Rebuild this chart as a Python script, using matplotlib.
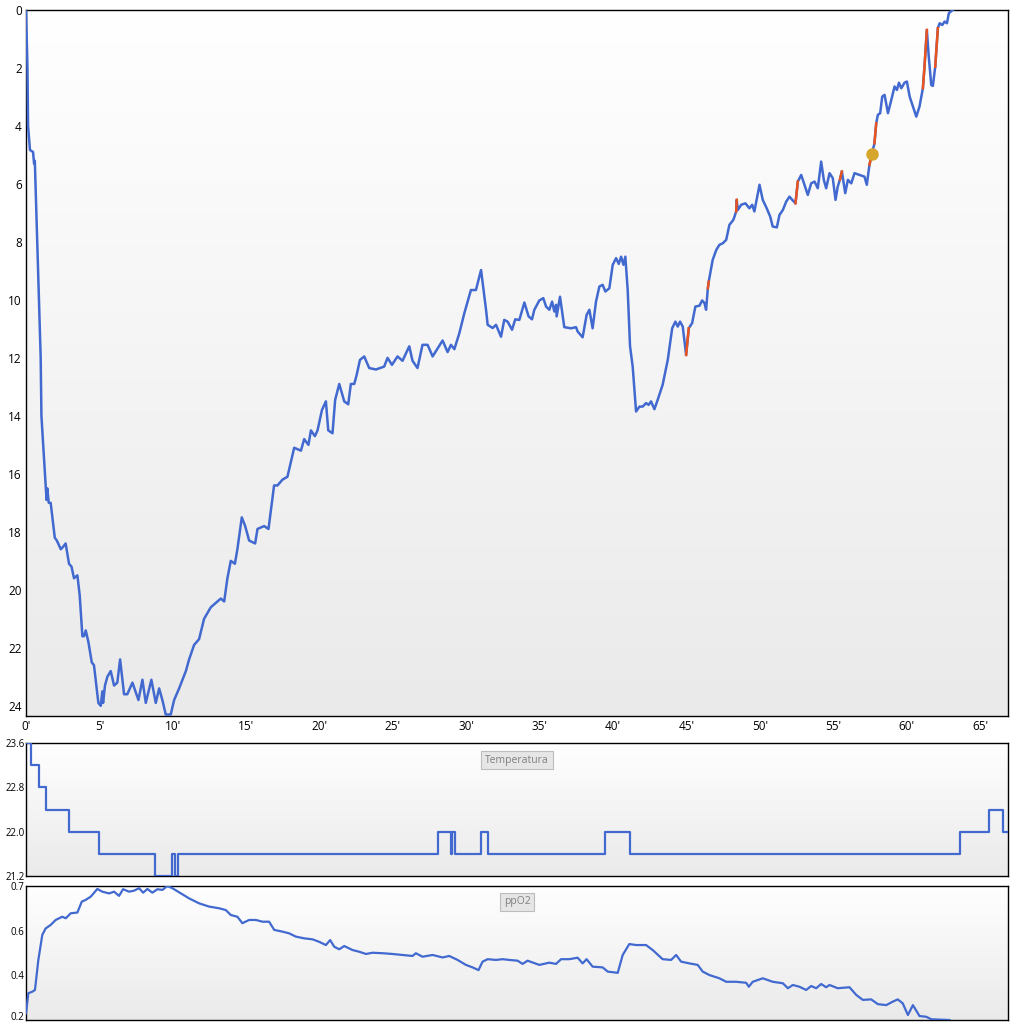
import numpy as np
import matplotlib
matplotlib.use("Agg")
import matplotlib.pyplot as plt
from matplotlib.colors import LinearSegmentedColormap
from matplotlib.ticker import FormatStrFormatter

plt.rcParams['font.family'] = ['Open Sans', 'DejaVu Sans']

# dive profile: time in minutes, depth in metres
depth_time = [0.0, 0.1, 0.14, 0.27, 0.48, 0.55, 0.6, 1.0, 1.05, 1.34, 1.4, 1.45, 1.55, 1.68,
              1.96, 2.1, 2.37, 2.55, 2.7, 2.93, 3.1, 3.27, 3.5, 3.66, 3.84, 3.95, 4.07, 4.25,
              4.48, 4.63, 4.93, 5.09, 5.2, 5.25, 5.38, 5.54, 5.77, 6.0, 6.22, 6.41, 6.68, 6.9,
              7.25, 7.66, 7.93, 8.16, 8.54, 8.84, 9.07, 9.29, 9.52, 9.86, 10.09, 10.43, 10.89,
              11.11, 11.45, 11.79, 12.13, 12.59, 13.04, 13.27, 13.5, 13.72, 13.95, 14.23, 14.4,
              14.7, 14.93, 15.2, 15.61, 15.77, 16.22, 16.52, 16.9, 17.13, 17.47, 17.81, 18.04,
              18.27, 18.73, 18.95, 19.24, 19.41, 19.68, 19.86, 20.16, 20.43, 20.59, 20.88, 21.06,
              21.34, 21.68, 21.95, 22.13, 22.36, 22.52, 22.75, 23.04, 23.38, 23.84, 24.4, 24.63,
              24.93, 25.31, 25.65, 26.11, 26.33, 26.67, 27.01, 27.36, 27.7, 28.38, 28.72, 28.95,
              29.18, 29.52, 29.86, 30.31, 30.65, 31.0, 31.34, 31.45, 31.79, 32.02, 32.36, 32.58,
              32.81, 33.11, 33.33, 33.61, 33.95, 34.24, 34.47, 34.63, 34.97, 35.24, 35.43, 35.65,
              35.84, 35.99, 36.11, 36.15, 36.38, 36.67, 37.13, 37.47, 37.58, 37.92, 38.19, 38.38,
              38.6, 38.83, 39.06, 39.28, 39.47, 39.74, 39.97, 40.2, 40.38, 40.54, 40.7, 40.83,
              40.99, 41.15, 41.33, 41.56, 41.79, 42.01, 42.24, 42.42, 42.58, 42.81, 43.03, 43.37,
              43.72, 44.02, 44.24, 44.4, 44.56, 44.74, 44.97, 45.15, 45.38, 45.6, 45.88, 46.06,
              46.22, 46.33, 46.45, 46.51, 46.78, 47.02, 47.24, 47.46, 47.7, 47.92, 48.19, 48.38,
              48.42, 48.49, 48.72, 49.01, 49.28, 49.47, 49.62, 49.97, 50.19, 50.46, 50.7, 50.87,
              51.15, 51.33, 51.56, 51.79, 52.01, 52.2, 52.42, 52.58, 52.81, 53.03, 53.26, 53.49,
              53.72, 53.94, 54.17, 54.35, 54.51, 54.74, 54.96, 55.15, 55.3, 55.45, 55.58, 55.81,
              55.99, 56.22, 56.44, 56.78, 57.12, 57.28, 57.46, 57.62, 57.8, 57.92, 58.03, 58.19,
              58.33, 58.49, 58.72, 58.95, 59.17, 59.33, 59.47, 59.63, 59.85, 60.01, 60.2, 60.42,
              60.65, 60.87, 61.1, 61.21, 61.37, 61.5, 61.67, 61.78, 61.94, 62.12, 62.24, 62.42,
              62.58, 62.74, 62.87, 63.14]
depth_m = [0.0, 2.0, 4.0, 4.83, 4.9, 5.3, 5.2, 12.0, 14.0, 16.45, 16.9, 16.5, 17.0, 17.0,
           18.2, 18.3, 18.6, 18.5, 18.4, 19.1, 19.2, 19.6, 19.5, 20.2, 21.6, 21.6, 21.4, 21.8,
           22.5, 22.6, 23.9, 24.0, 23.5, 23.9, 23.3, 23.0, 22.8, 23.3, 23.2, 22.4, 23.6, 23.6,
           23.2, 23.8, 23.1, 23.9, 23.1, 23.9, 23.4, 23.8, 24.3, 24.3, 23.8, 23.4, 22.8,
           22.4, 21.9, 21.7, 21.0, 20.6, 20.4, 20.3, 20.4, 19.6, 19.0, 19.1, 18.6,
           17.5, 17.8, 18.3, 18.4, 17.9, 17.8, 17.9, 16.4, 16.4, 16.2, 16.1, 15.6,
           15.1, 15.2, 14.8, 15.0, 14.5, 14.7, 14.5, 13.8, 13.5, 14.5, 14.6, 13.45,
           12.9, 13.5, 13.6, 12.9, 12.9, 12.6, 12.07, 11.95, 12.35, 12.4, 12.3, 12.0,
           12.24, 11.95, 12.1, 11.6, 12.1, 12.35, 11.55, 11.55, 11.95, 11.4, 11.8, 11.55,
           11.7, 11.15, 10.46, 9.66, 9.66, 8.97, 10.34, 10.86, 10.97, 10.86, 11.27, 10.69,
           10.75, 11.03, 10.67, 10.69, 10.09, 10.57, 10.67, 10.34, 10.02, 9.94, 10.23, 10.34,
           10.06, 10.4, 10.17, 10.57, 9.89, 10.94, 10.98, 10.94, 11.09, 11.29, 10.52, 10.34,
           10.98, 10.06, 9.54, 9.48, 9.71, 9.6, 8.79, 8.56, 8.76, 8.51, 8.79, 8.51,
           9.66, 11.6, 12.3, 13.85, 13.68, 13.68, 13.56, 13.62, 13.5, 13.77, 13.45, 12.93,
           12.07, 10.98, 10.75, 10.92, 10.75, 10.92, 11.9, 10.98, 10.8, 10.23, 10.2, 10.02,
           10.11, 10.34, 9.6, 9.37, 8.62, 8.28, 8.1, 8.05, 7.93, 7.41, 7.24, 6.95,
           6.55, 6.9, 6.72, 6.67, 6.84, 6.72, 6.95, 6.03, 6.55, 6.84, 7.13, 7.47,
           7.5, 7.07, 6.9, 6.61, 6.44, 6.55, 6.67, 5.92, 5.69, 6.03, 6.38, 5.98,
           5.92, 6.15, 5.23, 5.86, 6.15, 5.63, 5.8, 6.55, 6.09, 5.85, 5.57, 6.32,
           5.86, 5.98, 5.63, 5.69, 5.75, 6.03, 5.34, 4.98, 4.6, 3.91, 3.62, 3.56,
           2.99, 2.93, 3.56, 3.1, 2.64, 2.76, 2.51, 2.7, 2.51, 2.47, 2.99, 3.33,
           3.68, 3.33, 2.7, 1.96, 0.69, 1.61, 2.59, 2.62, 1.96, 0.63, 0.46, 0.52,
           0.4, 0.46, 0.11, 0.0]

# ascent-rate warning stretches (start, end minute)
warn_spans = [(44.97, 45.15), (46.45, 46.51), (48.38, 48.42), (52.42, 52.58),
              (55.45, 55.58), (57.46, 57.62), (57.8, 57.92), (61.1, 61.37), (61.94, 62.12)]

# marker on profile
mark_time = [57.62]
mark_depth = [4.98]

# temperature steps (change points)
temp_time = [0, 0.36, 0.89, 1.34, 2.93, 4.98, 8.79, 9.93, 10.16, 10.38, 28.04, 28.95, 29.05,
             29.2, 31.0, 31.45, 39.47, 41.15, 63.6, 65.6, 66.55, 66.9]
temp_c = [23.6, 23.2, 22.8, 22.4, 22.0, 21.6, 21.2, 21.6, 21.2, 21.6, 22.0, 21.6, 22.0,
          21.6, 22.0, 21.6, 22.0, 21.6, 22.0, 22.4, 22.0, 22.0]

# ppO2
ppo2_time = [0.0, 0.16, 0.43, 0.61, 0.84, 1.11, 1.34, 1.68, 2.02, 2.47, 2.71, 3.05, 3.5, 3.8,
             4.07, 4.41, 4.86, 5.2, 5.66, 6.0, 6.34, 6.61, 7.02, 7.36, 7.7, 7.98, 8.27, 8.61,
             8.95, 9.29, 9.63, 9.97, 10.55, 11.11, 11.79, 12.47, 13.16, 13.61, 13.95, 14.4,
             14.74, 15.2, 15.66, 16.11, 16.56, 16.91, 17.47, 17.93, 18.38, 18.95, 19.52, 19.97,
             20.43, 20.72, 21.0, 21.34, 21.68, 22.24, 22.7, 23.16, 23.61, 24.29, 24.97, 25.65,
             26.33, 26.56, 27.01, 27.7, 28.38, 28.83, 29.4, 29.97, 30.42, 30.83, 31.1, 31.45,
             32.02, 32.47, 32.92, 33.49, 33.83, 34.17, 34.97, 35.65, 36.11, 36.45, 37.01, 37.58,
             37.92, 38.19, 38.6, 39.28, 39.63, 40.31, 40.65, 41.1, 41.56, 42.24, 42.69, 43.37,
             43.95, 44.29, 44.63, 45.2, 45.76, 46.1, 46.56, 47.24, 47.7, 48.38, 49.06, 49.24,
             49.51, 50.19, 50.87, 51.56, 51.9, 52.24, 52.69, 53.15, 53.49, 53.83, 54.17, 54.51,
             54.74, 55.3, 56.1, 56.56, 57.01, 57.58, 58.03, 58.6, 59.05, 59.39, 59.73, 60.08,
             60.42, 60.87, 61.33, 61.67, 62.92]
ppo2_bar = [0.227, 0.308, 0.314, 0.321, 0.442, 0.543, 0.569, 0.583, 0.603, 0.616, 0.61, 0.63,
            0.633, 0.677, 0.684, 0.697, 0.728, 0.717, 0.71, 0.717, 0.7, 0.727, 0.717, 0.721,
            0.731, 0.713, 0.728, 0.713, 0.727, 0.724, 0.74, 0.731, 0.71, 0.69, 0.67, 0.657,
            0.65, 0.643, 0.623, 0.616, 0.59, 0.603, 0.603, 0.596, 0.596, 0.563, 0.556, 0.549,
            0.536, 0.529, 0.525, 0.515, 0.502, 0.522, 0.495, 0.485, 0.498, 0.482, 0.475, 0.466,
            0.471, 0.469, 0.466, 0.462, 0.458, 0.469, 0.455, 0.462, 0.452, 0.458, 0.442, 0.422,
            0.412, 0.401, 0.435, 0.445, 0.442, 0.445, 0.442, 0.439, 0.426, 0.439, 0.422, 0.431,
            0.426, 0.445, 0.445, 0.451, 0.428, 0.445, 0.415, 0.412, 0.395, 0.39, 0.462, 0.506,
            0.502, 0.502, 0.482, 0.445, 0.442, 0.462, 0.435, 0.428, 0.422, 0.395, 0.381, 0.368,
            0.354, 0.354, 0.35, 0.334, 0.354, 0.368, 0.354, 0.348, 0.328, 0.341, 0.334, 0.321,
            0.337, 0.328, 0.345, 0.332, 0.341, 0.328, 0.332, 0.301, 0.281, 0.283, 0.264, 0.26,
            0.274, 0.283, 0.267, 0.22, 0.26, 0.216, 0.213, 0.203, 0.2]

x_ticks = [0, 5, 10, 15, 20, 25, 30, 35, 40, 45, 50, 55, 60, 65]
x_labels = [f"{m}'" for m in x_ticks]
depth_ticks = [0, 2, 4, 6, 8, 10, 12, 14, 16, 18, 20, 22, 24]

BLUE = '#4169CF'
RED = '#E8531F'
GOLD = '#D6A62C'
XMAX = 66.9

bg = LinearSegmentedColormap.from_list('bg', ['#FFFFFF', '#EAEAEA'])
grad = np.linspace(0, 1, 256).reshape(-1, 1)


def panel(rect):
    ax = fig.add_axes(rect)
    ax.imshow(grad, cmap=bg, aspect='auto', extent=(0, 1, 0, 1),
              transform=ax.transAxes, zorder=0, origin='upper')
    for s in ax.spines.values():
        s.set_color('black')
        s.set_linewidth(1.0)
    ax.tick_params(length=0, pad=3)
    return ax


def title_box(ax, txt, y):
    ax.text(0.5, y, txt, transform=ax.transAxes, ha='center', va='center',
            fontsize=7.5, color='#808080',
            bbox=dict(boxstyle='square,pad=0.35', fc='#E6E6E6', ec='#BDBDBD', lw=0.8))


fig = plt.figure(figsize=(10.24, 10.24), dpi=100)
fig.patch.set_facecolor('white')

# main depth profile
ax = panel([0.0254, 0.3008, 0.959, 0.6895])
t = np.array(depth_time)
d = np.array(depth_m)
ax.plot(t, d, color=BLUE, lw=1.8, zorder=3)
for a, b in warn_spans:
    m = (t >= a) & (t <= b)
    ax.plot(t[m], d[m], color=RED, lw=1.8, zorder=4)
ax.plot(mark_time, mark_depth, 'o', color=GOLD, ms=8, zorder=5)
ax.set_xlim(0, XMAX)
ax.set_ylim(24.35, 0)
ax.set_xticks(x_ticks)
ax.set_xticklabels(x_labels)
ax.set_yticks(depth_ticks)
ax.tick_params(labelsize=8.5)

# temperature
ax2 = panel([0.0254, 0.1445, 0.959, 0.1299])
ax2.plot(temp_time, temp_c, color=BLUE, lw=1.6, drawstyle='steps-post', zorder=3)
ax2.set_xlim(0, XMAX)
ax2.set_ylim(21.2, 23.6)
ax2.set_xticks([])
ax2.set_yticks(np.linspace(21.2, 23.6, 4))
ax2.yaxis.set_major_formatter(FormatStrFormatter('%.1f'))
ax2.tick_params(labelsize=7, pad=1)
title_box(ax2, 'Temperatura', 0.872)

# ppO2
ax3 = panel([0.0254, 0.0039, 0.959, 0.1309])
ax3.plot(ppo2_time, ppo2_bar, color=BLUE, lw=1.6, zorder=3)
ax3.set_xlim(0, XMAX)
ax3.set_ylim(0.2, 0.74)
ax3.set_xticks([])
ax3.set_yticks(np.linspace(0.2, 0.74, 4))
ax3.yaxis.set_major_formatter(FormatStrFormatter('%.1f'))
ax3.tick_params(labelsize=7, pad=1)
ax3.get_yticklabels()[0].set_va('baseline')
title_box(ax3, 'ppO2', 0.883)

fig.savefig('out.png', dpi=100)
